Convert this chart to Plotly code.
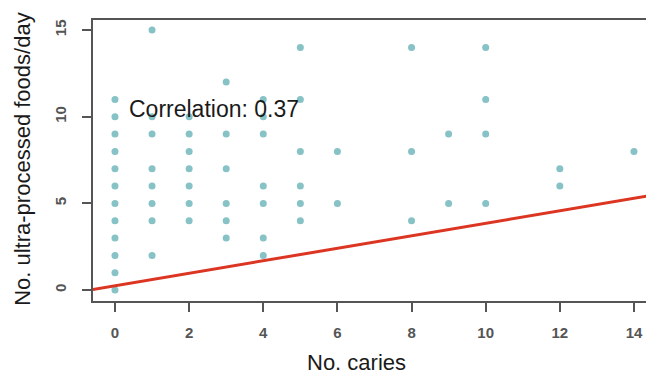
import plotly.graph_objects as go

# Data (No. caries vs No. ultra-processed foods/day)
caries = [0]*12 + [1]*8 + [2]*7 + [3]*6 + [4]*7 + [5]*6 + [6]*2 + [8]*3 + [9]*2 + [10]*4 + [12]*2 + [14]
foods = ([0, 1, 2, 3, 4, 5, 6, 7, 8, 9, 10, 11] +
         [2, 4, 5, 6, 7, 9, 10, 15] +
         [4, 5, 6, 7, 8, 9, 10] +
         [3, 4, 5, 7, 9, 12] +
         [2, 3, 5, 6, 9, 10, 11] +
         [4, 5, 6, 8, 11, 14] +
         [5, 8] +
         [4, 8, 14] +
         [5, 9] +
         [5, 9, 11, 14] +
         [6, 7] +
         [8])

fit_intercept = 0.25
fit_slope = 0.36
fit_x = [-0.6, 14.6]
fit_y = [fit_intercept + fit_slope * v for v in fit_x]

x_ticks = [0, 2, 4, 6, 8, 10, 12, 14]
y_ticks = [0, 5, 10, 15]
corr_label = "Correlation: 0.37"

FONT = "Liberation Sans, Arial, sans-serif"

fig = go.Figure()
fig.add_trace(go.Scatter(x=caries, y=foods, mode="markers",
                         marker=dict(color="#86c2c6", size=7, line=dict(width=0)),
                         showlegend=False, hoverinfo="skip"))
fig.add_trace(go.Scatter(x=fit_x, y=fit_y, mode="lines",
                         line=dict(color="#dc3522", width=3),
                         showlegend=False, hoverinfo="skip"))

fig.add_annotation(x=0.33, y=10.45, text=corr_label, showarrow=False,
                   xanchor="left", yanchor="middle",
                   font=dict(family=FONT, size=23, color="#1a1a1a"))

axis_common = dict(showgrid=False, zeroline=False, showline=True, mirror=True,
                   linecolor="#555555", linewidth=2, automargin=False,
                   ticks="outside", ticklen=9, tickwidth=2, tickcolor="#555555",
                   tickfont=dict(family=FONT, size=15, color="#555555", weight="bold"))

fig.update_xaxes(range=[-0.593, 14.54], tickvals=x_ticks, **axis_common,
                 ticklabelstandoff=8)
fig.update_yaxes(range=[-0.63, 15.58], tickvals=y_ticks, tickangle=-90, **axis_common,
                 ticklabelstandoff=10)

# Axis titles placed in paper coordinates (margins fixed)
fig.add_annotation(x=0.469, xref="paper", y=-0.218, yref="paper", text="No. caries",
                   showarrow=False, xanchor="center", yanchor="middle",
                   font=dict(family=FONT, size=22, color="#1a1a1a"))
fig.add_annotation(x=-0.126, xref="paper", y=0.507, yref="paper", text="No. ultra-processed foods/day",
                   showarrow=False, textangle=-90, xanchor="center", yanchor="middle",
                   font=dict(family=FONT, size=22, color="#1a1a1a"))

fig.update_layout(width=646, height=366, margin=dict(l=85, r=0, t=12, b=73),
                  plot_bgcolor="white", paper_bgcolor="white")

fig.write_html("out.html")
